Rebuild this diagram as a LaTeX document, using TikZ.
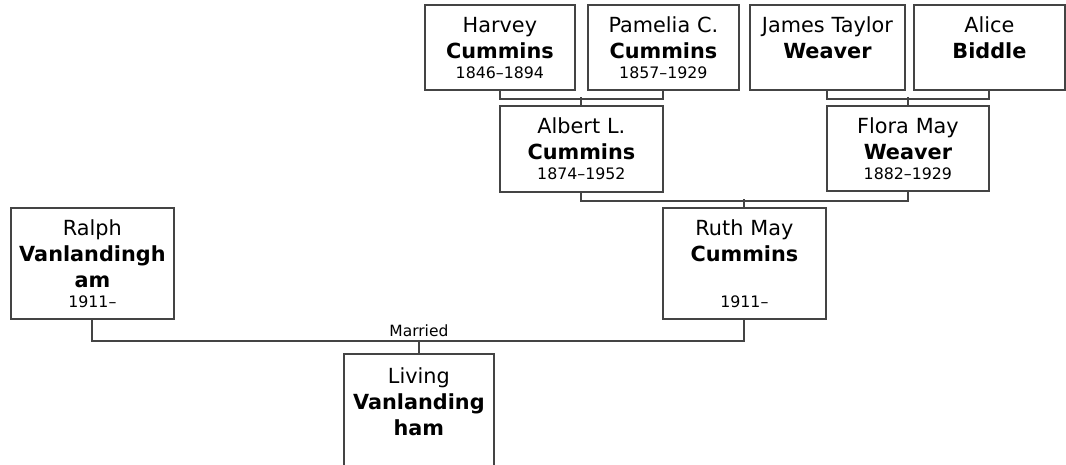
\documentclass[tikz,border=0pt]{standalone}
\usepackage{fontspec}
\setmainfont{DejaVu Sans}
\usetikzlibrary{calc}
\definecolor{treegray}{HTML}{444444}
\newcommand{\lifespan}[1]{\\[-6pt]{\fontsize{15.8}{20}\selectfont #1}}
\tikzset{
  person/.style={draw=treegray,line width=1.8pt,fill=white,anchor=north west,inner sep=0pt,align=center,text height=28pt,font=\fontsize{20.8}{26}\selectfont},
  toprow/.style={person,text width=150pt,text depth=57pt},
  midrow/.style={person,text width=163pt,text depth=58pt},
  lowrow/.style={person,text width=163pt,text depth=83pt},
  famline/.style={draw=treegray,line width=2pt},
  wedlabel/.style={anchor=base,font=\fontsize{15.5}{18}\selectfont,inner sep=0pt,yshift=4pt},
}

\begin{document}
\begin{tikzpicture}[x=1pt,y=-1pt]
    \useasboundingbox (0,0) rectangle (1066,464);
    \clip (0,0) rectangle (1066,464);
    \node[toprow] (harvey) at (424,4) {Harvey\\\textbf{Cummins}\lifespan{1846–1894}};
    \node[toprow,text width=151pt] (pamelia) at (587,4) {Pamelia C.\\\textbf{Cummins}\lifespan{1857–1929}};
    \node[toprow,text width=155pt] (james) at (749,4) {James Taylor\\\textbf{Weaver}};
    \node[toprow,text width=151pt] (alice) at (913,4) {Alice\\\textbf{Biddle}};
    \node[midrow] (albert) at (499,105) {Albert L.\\\textbf{Cummins}\lifespan{1874–1952}};
    \node[midrow,text width=162pt,text depth=57pt] (flora) at (826,105) {Flora May\\\textbf{Weaver}\lifespan{1882–1929}};
    \node[lowrow] (ralph) at (10,207) {Ralph\\\textbf{Vanlandingh}\\\textbf{am}\lifespan{1911–}};
    \node[lowrow] (ruth) at (662,207) {Ruth May\\\textbf{Cummins}\\\mbox{}\lifespan{1911–}};
    \node[person,text width=150pt,text height=30pt,text depth=120pt] (living) at (343,353) {Living\\\textbf{Vanlanding}\\\textbf{ham}};
    \draw[famline] (harvey.south) -- ++(0,8) -| (pamelia.south);\draw[famline] (albert.north) -- ++(0,-8);
    \draw[famline] (james.south) -- ++(0,8) -| (alice.south);\draw[famline] (flora.north) -- ++(0,-8);
    \draw[famline] (albert.south) -- ++(0,8) -| (flora.south);\draw[famline] (ruth.north) -- ++(0,-8);
    \draw[famline] (ralph.south) -- ++(0,21) coordinate (rl) -| (ruth.south);
    \coordinate (wed) at (living.north |- rl);
    \draw[famline] (wed) -- (living.north);
    \node[wedlabel] (married) at (wed) {Married};
  \end{tikzpicture}
\end{document}
